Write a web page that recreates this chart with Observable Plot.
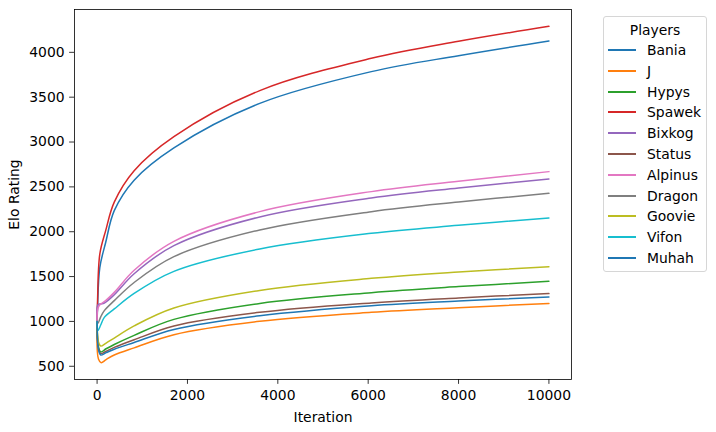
<!DOCTYPE html>
<html><head><meta charset="utf-8">
<script src="https://cdn.jsdelivr.net/npm/d3@7"></script>
<script src="https://cdn.jsdelivr.net/npm/@observablehq/plot@0.6"></script>
<style>
body{margin:0;background:#fff;}
#wrap{position:relative;width:716px;height:432px;font-family:"DejaVu Sans",sans-serif;color:#000;}
#legend{position:absolute;left:603px;top:16px;width:104px;height:256px;box-sizing:border-box;border:1px solid #d6d6d6;border-radius:3px;background:#fff;}
#legend .title{position:absolute;left:0;width:100%;top:4px;text-align:center;font-size:13.9px;line-height:18px;}
#legend .row{position:absolute;left:0;height:18px;width:100%;}
#legend .sw{position:absolute;left:4px;top:8px;width:28px;height:0;border-top:2px solid;}
#legend .lb{position:absolute;left:43px;top:0;font-size:13.9px;line-height:18px;white-space:nowrap;}
</style></head>
<body><div id="wrap"><div id="chart"></div><div id="legend"></div></div>
<script>
const players = ["Bania","J","Hypys","Spawek","Bixkog","Status","Alpinus","Dragon","Goovie","Vifon","Muhah"];
const colors = ["#1f77b4","#ff7f0e","#2ca02c","#d62728","#9467bd","#8c564b","#e377c2","#7f7f7f","#bcbd22","#17becf","#1f77b4"];
const xTicks = [0,2000,4000,6000,8000,10000];
const yTicks = [500,1000,1500,2000,2500,3000,3500,4000];

const iterBania   = [0,10,60,190,380,820,1700,3600,6070,8000,10000];
const eloBania    = [1000,1150,1600,1880,2235,2575,2935,3431,3785,3963,4127];
const iterJ       = [0,30,90,200,380,820,1700,3600,6070,8000,10000];
const eloJ        = [1000,580,540,575,625,705,852,1001,1101,1153,1201];
const iterHypys   = [0,30,80,200,380,820,1700,3600,6070,8000,10000];
const eloHypys    = [1000,720,660,695,743,845,1023,1201,1321,1388,1447];
const iterSpawek  = [0,10,60,190,380,820,1700,3600,6070,8000,10000];
const eloSpawek   = [1000,1230,1750,2012,2330,2680,3060,3573,3933,4123,4290];
const iterBixkog  = [0,20,80,160,380,820,1700,3600,6070,8000,10000];
const eloBixkog   = [1000,1185,1195,1205,1298,1532,1845,2165,2377,2488,2588];
const iterStatus  = [0,30,80,200,380,820,1700,3600,6070,8000,10000];
const eloStatus   = [1000,700,640,668,710,795,949,1101,1206,1262,1310];
const iterAlpinus = [0,20,80,160,380,820,1700,3600,6070,8000,10000];
const eloAlpinus  = [1000,1150,1195,1220,1324,1570,1893,2224,2447,2562,2670];
const iterDragon  = [0,20,80,160,380,820,1700,3600,6070,8000,10000];
const eloDragon   = [1000,980,1050,1120,1232,1434,1722,2020,2224,2332,2428];
const iterGoovie  = [0,30,80,200,380,820,1700,3600,6070,8000,10000];
const eloGoovie   = [1000,770,725,758,815,950,1150,1346,1480,1551,1610];
const iterVifon   = [0,20,80,160,380,820,1700,3600,6070,8000,10000];
const eloVifon    = [1000,900,960,1045,1139,1312,1558,1808,1982,2071,2153];
const iterMuhah   = [0,30,80,200,380,820,1700,3600,6070,8000,10000];
const eloMuhah    = [1000,690,625,652,690,765,911,1064,1176,1228,1273];

const series = {
  Bania:[iterBania,eloBania], J:[iterJ,eloJ], Hypys:[iterHypys,eloHypys], Spawek:[iterSpawek,eloSpawek],
  Bixkog:[iterBixkog,eloBixkog], Status:[iterStatus,eloStatus], Alpinus:[iterAlpinus,eloAlpinus],
  Dragon:[iterDragon,eloDragon], Goovie:[iterGoovie,eloGoovie], Vifon:[iterVifon,eloVifon], Muhah:[iterMuhah,eloMuhah]
};
const rows = [];
for (const p of players) {
  const [it, el] = series[p];
  it.forEach((x, i) => rows.push({player: p, iteration: x, elo: el[i]}));
}
const xmin = d3.min(rows, d => d.iteration), xmax = d3.max(rows, d => d.iteration);
const ymin = d3.min(rows, d => d.elo), ymax = d3.max(rows, d => d.elo);
const xp = (xmax - xmin) * 0.05, yp = (ymax - ymin) * 0.05;

const chart = Plot.plot({
  width: 716, height: 432,
  marginLeft: 74, marginRight: 145, marginTop: 9, marginBottom: 53,
  x: {domain: [xmin - xp, xmax + xp]},
  y: {domain: [ymin - yp, ymax + yp]},
  color: {domain: players, range: colors},
  style: {fontFamily: "DejaVu Sans", fontSize: "13.9px", color: "#000", background: "#fff"},
  marks: [
    Plot.line(rows, {x: "iteration", y: "elo", z: "player", stroke: "player", strokeWidth: 1.5, curve: "catmull-rom"}),
    Plot.frame({stroke: "#000", strokeWidth: 0.8}),
    Plot.axisX({ticks: xTicks, tickSize: 4.86, tickPadding: 6, strokeWidth: 0.8, tickFormat: d => String(d),
      label: "Iteration", labelAnchor: "center", labelArrow: "none", labelOffset: 42}),
    Plot.axisY({ticks: yTicks, tickSize: 4.86, tickPadding: 5, strokeWidth: 0.8, tickFormat: d => String(d),
      label: "Elo Rating", labelAnchor: "center", labelArrow: "none", labelOffset: 65})
  ]
});
document.getElementById("chart").appendChild(chart);

const leg = document.getElementById("legend");
const t = document.createElement("div");
t.className = "title"; t.textContent = "Players";
leg.appendChild(t);
players.forEach((p, i) => {
  const r = document.createElement("div");
  r.className = "row";
  r.style.top = (24 + i * 20.8) + "px";
  const s = document.createElement("div");
  s.className = "sw"; s.style.borderTopColor = colors[i];
  const l = document.createElement("div");
  l.className = "lb"; l.textContent = p;
  r.appendChild(s); r.appendChild(l);
  leg.appendChild(r);
});
</script></body></html>
